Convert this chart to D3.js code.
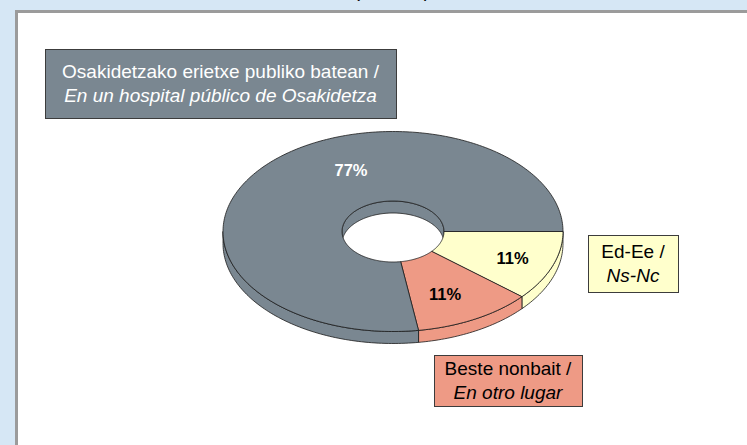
<!DOCTYPE html>
<html lang="eu">
<head>
<meta charset="UTF-8">
<script src="https://d3js.org/d3.v7.min.js"></script>
<style>
  body { margin: 0; background: #d6e7f5; }
  svg { display: block; font-family: Arial, "Liberation Sans", sans-serif; }
  .box-text { font-size: 19px; }
</style>
</head>
<body>
<script>
// data (order = clockwise from 3 o'clock)
var categories = ["Ed-Ee", "Beste nonbait", "Osakidetzako erietxe publiko batean"]
var categoriesEs = ["Ns-Nc", "En otro lugar", "En un hospital público de Osakidetza"]
var values = [11.3, 11.3, 77.4]
var colors = ["#ffffcc", "#ee9a85", "#7a8791"]

var width = 747, height = 445
var svg = d3.select("body").append("svg")
    .attr("width", width)
    .attr("height", height)

// title, mostly cut off above the picture
svg.append("text").attr("x", 357).attr("y", -3).attr("font-size", 19).attr("text-anchor", "middle").text("(")
svg.append("text").attr("x", 427).attr("y", -3).attr("font-size", 19).attr("text-anchor", "middle").text(")")

// white panel
svg.append("rect")
    .attr("x", 16.5).attr("y", 11.5)
    .attr("width", 800).attr("height", 500)
    .attr("fill", "#fff")
    .attr("stroke", "#9b9b9b")
    .attr("stroke-width", 3)

// 3d donut geometry
var cx = 393, cy = 231.5
var rx = 170, ry = 100
var irx = 51, iry = 30.5
var depth = 12

var pie = d3.pie().sort(null).startAngle(Math.PI / 2).endAngle(Math.PI / 2 + 2 * Math.PI)
var arcs = pie(values)

// d3 angle (from 12 o'clock) -> screen angle (from 3 o'clock, clockwise)
function scr(a) { return a - Math.PI / 2 }

function arcPts(t0, t1, ex, ey, dy) {
    var n = Math.max(2, Math.ceil(Math.abs(t1 - t0) / 0.02))
    var pts = []
    for (var i = 0; i <= n; i++) {
        var t = t0 + (t1 - t0) * i / n
        pts.push([cx + ex * Math.cos(t), cy + ey * Math.sin(t) + dy])
    }
    return pts
}
var line = d3.line()
function closed(pts) { return line(pts) + "Z" }

var g = svg.append("g")

// inner wall (far side of the hole, angles pi..2pi)
arcs.forEach(function (d, i) {
    var t0 = Math.max(scr(d.startAngle), Math.PI)
    var t1 = Math.min(scr(d.endAngle), 2 * Math.PI)
    if (t1 <= t0) return
    var pts = arcPts(t0, t1, irx, iry, 0).concat(arcPts(t1, t0, irx, iry, depth))
    g.append("path").attr("d", closed(pts))
        .attr("fill", colors[i]).attr("stroke", "#1a1a1a").attr("stroke-width", 0.8)
})

// outer side (front half, angles 0..pi)
arcs.forEach(function (d, i) {
    var t0 = Math.max(scr(d.startAngle), 0)
    var t1 = Math.min(scr(d.endAngle), Math.PI)
    if (t1 <= t0) return
    var pts = arcPts(t0, t1, rx, ry, 0).concat(arcPts(t1, t0, rx, ry, depth))
    g.append("path").attr("d", closed(pts))
        .attr("fill", colors[i]).attr("stroke", "#1a1a1a").attr("stroke-width", 0.8)
})

// top faces
arcs.forEach(function (d, i) {
    var t0 = scr(d.startAngle), t1 = scr(d.endAngle)
    var pts = arcPts(t0, t1, rx, ry, 0).concat(arcPts(t1, t0, irx, iry, 0))
    g.append("path").attr("d", closed(pts))
        .attr("fill", colors[i]).attr("stroke", "#1a1a1a").attr("stroke-width", 0.8)
})

// percentage labels
var fmt = function (v) { return Math.round(v) + "%" }
arcs.forEach(function (d, i) {
    var t = (scr(d.startAngle) + scr(d.endAngle)) / 2
    var r = 0.75
    if (i == 1) { t += 3 * Math.PI / 180; r = 0.70 }
    if (i == 2) { t = 248 * Math.PI / 180; r = 0.66 }   // big slice label sits up-left
    g.append("text")
        .attr("x", cx + r * rx * Math.cos(t))
        .attr("y", cy + r * ry * Math.sin(t))
        .attr("dy", "0.36em")
        .attr("text-anchor", "middle")
        .attr("font-size", 16.5)
        .attr("font-weight", "bold")
        .attr("fill", i == 2 ? "#fff" : "#000")
        .text(fmt(d.data))
})

// category boxes
var boxes = [
    { x: 588, y: 235, w: 90, h: 57, text: "#000" },
    { x: 434, y: 355, w: 148, h: 51, text: "#000" },
    { x: 45, y: 49, w: 351, h: 69, text: "#fff" }
]
boxes.forEach(function (b, i) {
    svg.append("rect")
        .attr("x", b.x + 0.5).attr("y", b.y + 0.5)
        .attr("width", b.w).attr("height", b.h)
        .attr("fill", colors[i])
        .attr("stroke", "#3c3c3c").attr("stroke-width", 1)
    var mid = b.y + b.h / 2
    var t = svg.append("text").attr("class", "box-text")
        .attr("text-anchor", "middle").attr("fill", b.text)
    t.append("tspan").attr("x", b.x + b.w / 2).attr("y", mid - 12).attr("dy", "0.36em")
        .text(categories[i] + " /")
    t.append("tspan").attr("x", b.x + b.w / 2).attr("y", mid + 12).attr("dy", "0.36em")
        .attr("font-style", "italic")
        .text(categoriesEs[i])
})
</script>
</body>
</html>
